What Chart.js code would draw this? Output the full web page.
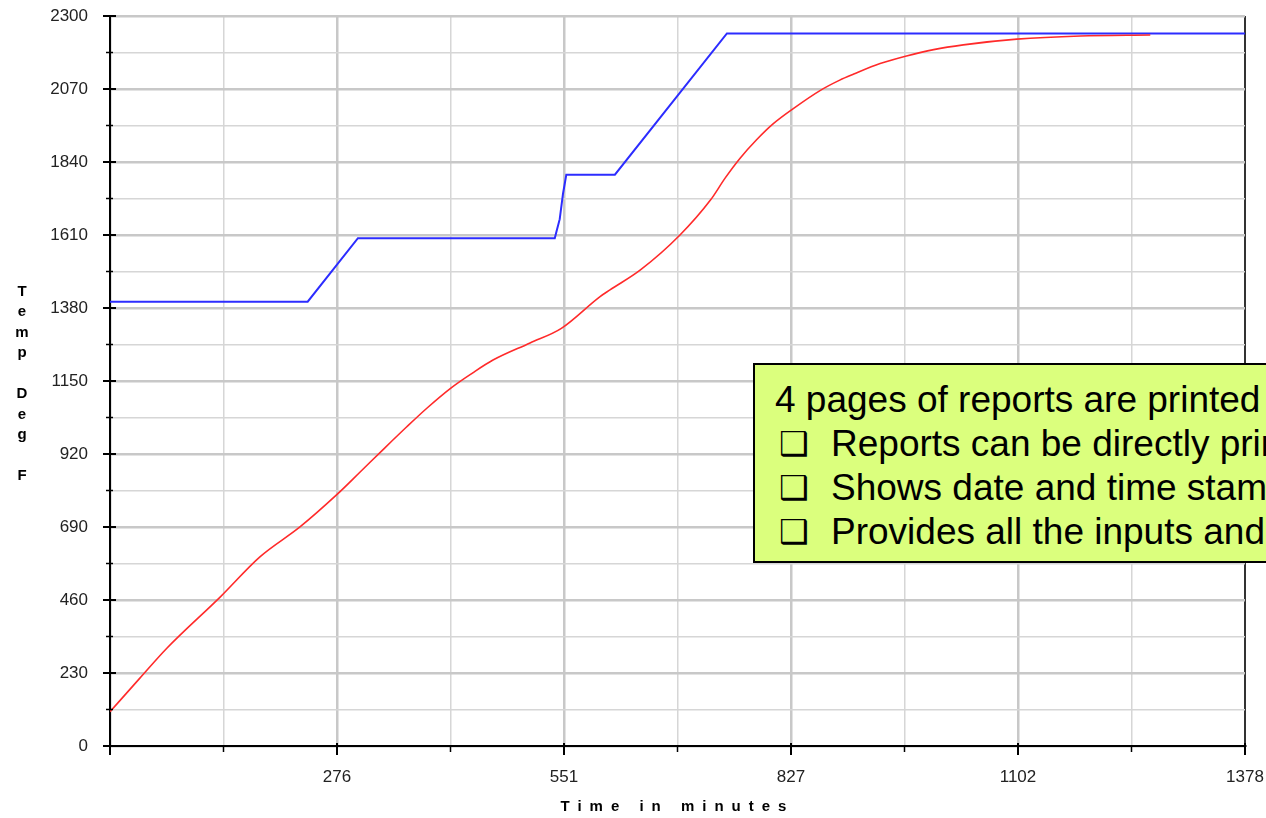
<!DOCTYPE html>
<html>
<head>
<meta charset="utf-8">
<script src="https://cdn.jsdelivr.net/npm/chart.js@4.4.1/dist/chart.umd.min.js"></script>
<style>
    html, body { margin: 0; padding: 0; background: #fff; overflow: hidden; }
    #wrap { position: relative; width: 1266px; height: 818px; overflow: hidden; }
    #note {
        position: absolute; left: 753px; top: 363px; width: 700px;
        border: 2px solid #000; background: #dbff7d;
        font-family: "Liberation Sans", Arial, sans-serif; font-size: 37px; line-height: 44px;
        color: #000; white-space: nowrap; padding-top: 13px; height: 183px;
    }
    #note div { height: 44px; }
    #note .first { padding-left: 20px; }
    #note .item { padding-left: 24px; }
    #note .box {
        display: inline-block; width: 52px; height: 44px; line-height: 44px; vertical-align: top;
        font-family: "DejaVu Sans", sans-serif; font-size: 33px;
    }
</style>
</head>
<body>
<div id="wrap">
    <canvas id="tempChart" width="1266" height="818"></canvas>
    <div id="note">
        <div class="first">4 pages of reports are printed</div>
        <div class="item"><span class="box">❑</span>Reports can be directly printed</div>
        <div class="item"><span class="box">❑</span>Shows date and time stamp</div>
        <div class="item"><span class="box">❑</span>Provides all the inputs and outputs</div>
    </div>
</div>
<script>
// setpoint (blue) and measured (red) temperatures
const blueTime = [0, 240, 301, 540, 542, 546, 550, 554, 613, 749, 1378];
const blueTemp = [1400, 1400, 1600, 1600, 1620, 1660, 1740, 1800, 1800, 2245, 2245];

const redTime = [0, 36, 69, 134, 182, 231, 275, 304, 330, 360, 385, 415, 440, 465, 510, 548,
    595, 607, 644, 692, 729, 747, 765, 785, 805, 830, 862, 886, 903, 935, 967, 1000, 1036, 1101, 1178, 1263];
const redTemp = [108, 213, 308, 470, 596, 691, 791, 864, 930, 1005, 1065, 1130, 1175, 1216, 1270, 1316,
    1416, 1437, 1500, 1610, 1720, 1790, 1852, 1910, 1960, 2009, 2065, 2098, 2117, 2150, 2174, 2194, 2209, 2227, 2237, 2240];

const xTickValues = [0, 137.8, 275.6, 413.4, 551.2, 689, 826.8, 964.6, 1102.4, 1240.2, 1378];
const xTickLabels = ['', '', '276', '', '551', '', '827', '', '1102', '', '1378'];
const yTickValues = [0, 115, 230, 345, 460, 575, 690, 805, 920, 1035, 1150, 1265, 1380,
    1495, 1610, 1725, 1840, 1955, 2070, 2185, 2300];
const yTickLabels = ['0', '', '230', '', '460', '', '690', '', '920', '', '1150', '', '1380',
    '', '1610', '', '1840', '', '2070', '', '2300'];

const xTitle = 'Time in minutes';
const yTitle = 'Temp Deg F';

const FONT = '"Liberation Sans", Arial, sans-serif';

function toPoints(xs, ys) {
    return xs.map((x, i) => ({ x: x, y: ys[i] }));
}

function gridColor(ctx, last) {
    if (last && ctx.index === last) return '#333';
    return ctx.index % 2 === 0 ? '#c8c8c8' : '#d6d6d6';
}

function gridWidth(ctx, last) {
    if (last && ctx.index === last) return 2;
    return ctx.index % 2 === 0 ? 2.5 : 1.5;
}

// labels may overhang the plot edges, as in the original
function noOverhang(scale) {
    scale.paddingTop = 0;
    scale.paddingBottom = 0;
    scale.paddingLeft = 0;
    scale.paddingRight = 0;
}

// tick marks across the axes, and the two axis titles
const axisExtras = {
    id: 'axisExtras',
    afterDraw(chart) {
        const { ctx, chartArea, scales } = chart;
        const { left, bottom, top } = chartArea;
        ctx.save();
        ctx.strokeStyle = '#000';

        scales.y.ticks.forEach((t, i) => {
            const py = scales.y.getPixelForValue(t.value);
            const major = i % 2 === 0;
            ctx.lineWidth = major ? 2 : 1.5;
            ctx.beginPath();
            ctx.moveTo(left - (major ? 7 : 4), py);
            ctx.lineTo(left + (major ? 6 : 3), py);
            ctx.stroke();
        });

        scales.x.ticks.forEach((t, i) => {
            const px = scales.x.getPixelForValue(t.value);
            const major = i % 2 === 0;
            ctx.lineWidth = major ? 2 : 1.5;
            ctx.beginPath();
            ctx.moveTo(px, bottom - (major ? 3 : 1));
            ctx.lineTo(px, bottom + (major ? 9 : 6));
            ctx.stroke();
        });

        ctx.fillStyle = '#000';
        ctx.font = 'bold 15px ' + FONT;
        ctx.textAlign = 'center';
        ctx.textBaseline = 'middle';

        // vertical title, one letter per line
        const letters = yTitle.split('');
        const lh = 20.5;
        const y0 = (top + bottom) / 2 + 3 - (letters.length - 1) / 2 * lh;
        letters.forEach((ch, i) => {
            if (ch !== ' ') ctx.fillText(ch, 22, y0 + i * lh);
        });

        ctx.letterSpacing = '8px';
        ctx.fillText(xTitle, (chartArea.left + chartArea.right) / 2, 807);
        ctx.restore();
    }
};

const ctx = document.getElementById('tempChart').getContext('2d');
new Chart(ctx, {
    type: 'line',
    data: {
        datasets: [
            {
                label: 'Measured',
                data: toPoints(redTime, redTemp),
                borderColor: '#ff2a2a',
                borderWidth: 1.6,
                pointRadius: 0,
                cubicInterpolationMode: 'monotone'
            },
            {
                label: 'Setpoint',
                data: toPoints(blueTime, blueTemp),
                borderColor: '#2c2cff',
                borderWidth: 2,
                pointRadius: 0,
                tension: 0
            }
        ]
    },
    options: {
        responsive: false,
        animation: false,
        events: [],
        layout: { padding: { left: 0, top: 16, right: 21, bottom: 0 } },
        plugins: {
            legend: { display: false },
            tooltip: { enabled: false }
        },
        scales: {
            x: {
                type: 'linear',
                min: 0,
                max: 1378,
                afterBuildTicks: (scale) => { scale.ticks = xTickValues.map(v => ({ value: v })); },
                afterFit: (scale) => { scale.height = 72; noOverhang(scale); },
                border: { color: '#000', width: 2 },
                grid: {
                    drawTicks: false,
                    color: (c) => gridColor(c, xTickValues.length - 1),
                    lineWidth: (c) => gridWidth(c, xTickValues.length - 1)
                },
                ticks: {
                    autoSkip: false,
                    maxRotation: 0,
                    padding: 21,
                    color: '#222',
                    font: { family: FONT, size: 17 },
                    callback: (value, index) => xTickLabels[index]
                }
            },
            y: {
                type: 'linear',
                min: 0,
                max: 2300,
                afterBuildTicks: (scale) => { scale.ticks = yTickValues.map(v => ({ value: v })); },
                afterFit: (scale) => { scale.width = 110; noOverhang(scale); },
                border: { color: '#000', width: 2 },
                grid: {
                    drawTicks: false,
                    color: (c) => gridColor(c, 0),
                    lineWidth: (c) => gridWidth(c, 0)
                },
                ticks: {
                    autoSkip: false,
                    padding: 22,
                    color: '#222',
                    font: { family: FONT, size: 17 },
                    callback: (value, index) => yTickLabels[index]
                }
            }
        }
    },
    plugins: [axisExtras]
});
</script>
</body>
</html>
